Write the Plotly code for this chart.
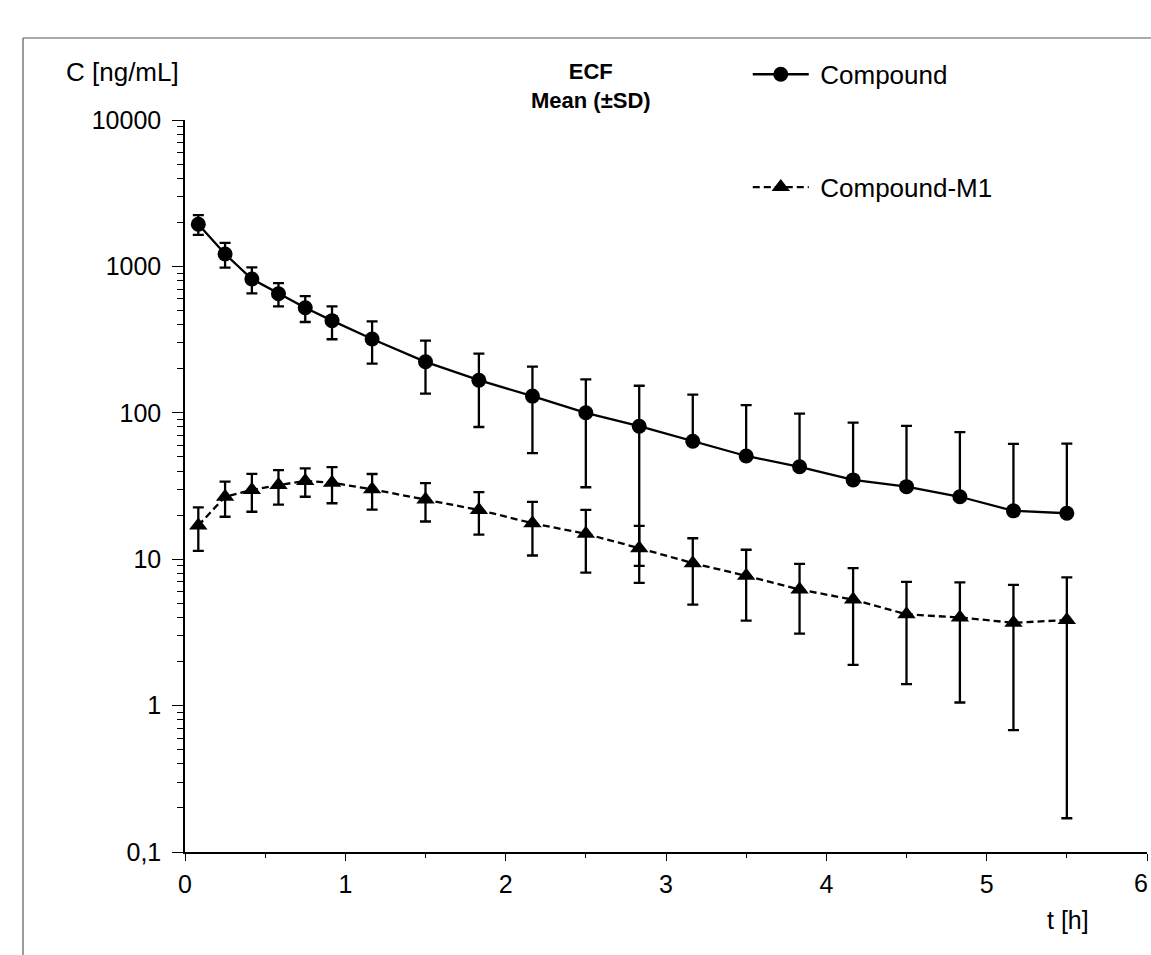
import plotly.graph_objects as go

# ---- data ----
t_h = [0.083, 0.25, 0.417, 0.583, 0.75, 0.917, 1.167, 1.5, 1.833, 2.167,
       2.5, 2.833, 3.167, 3.5, 3.833, 4.167, 4.5, 4.833, 5.167, 5.5]
compound_mean = [1940, 1215, 820, 651, 522, 426, 319, 223, 167, 130,
                 100, 81, 64, 50.7, 42.8, 34.8, 31.3, 26.7, 21.4, 20.6]
compound_sd = [300, 235, 165, 118, 105, 108, 102, 88, 87, 77,
               69, 72, 69, 62, 56, 51, 50, 47, 40, 41]
m1_mean = [17.0, 26.7, 29.7, 32.1, 34.2, 33.3, 30.0, 25.6, 21.7, 17.6,
           14.9, 11.9, 9.4, 7.7, 6.2, 5.3, 4.2, 4.0, 3.68, 3.84]
m1_sd = [5.6, 7.2, 8.6, 8.5, 7.5, 9.2, 8.2, 7.5, 7.0, 7.0,
         6.8, 5.0, 4.5, 3.9, 3.1, 3.4, 2.8, 2.95, 3.0, 3.67]

series_names = ["Compound", "Compound-M1"]
y_tickvals = [0.1, 1, 10, 100, 1000, 10000]
y_ticktext = ["0,1", "1", "10", "100", "1000", "10000"]
x_tickvals = [0, 1, 2, 3, 4, 5, 6]
x_edge_label = 6  # last tick label, sits against the page edge in the reference

FONT = "Liberation Sans, Arial, sans-serif"


def lower_err(means, sds):
    # on a log axis the lower bar is dropped when mean - SD <= 0
    return [s if s < m else 0 for m, s in zip(means, sds)]


fig = go.Figure()

fig.add_trace(go.Scatter(
    x=t_h, y=compound_mean, name="\u2005" + series_names[0], legendgroup="a",
    mode="lines+markers",
    line=dict(color="black", width=2.3),
    marker=dict(symbol="circle", size=15, color="black"),
    error_y=dict(type="data", symmetric=False, array=compound_sd,
                 arrayminus=lower_err(compound_mean, compound_sd),
                 color="black", thickness=2.3, width=5.5),
))

fig.add_trace(go.Scatter(
    x=t_h, y=m1_mean, name="\u2005" + series_names[1], legendgroup="b",
    mode="lines+markers",
    line=dict(color="black", width=2.3, dash="7px,4px"),
    marker=dict(symbol="triangle-up", size=16, color="black"),
    error_y=dict(type="data", symmetric=False, array=m1_sd,
                 arrayminus=lower_err(m1_mean, m1_sd),
                 color="black", thickness=2.3, width=5.5),
))

minor_y = [k * 10 ** e for e in range(-1, 4) for k in range(2, 10)]

fig.update_xaxes(
    range=[0, 6], tickvals=x_tickvals, ticks="outside", ticklen=7, tickwidth=1.3,
    tickcolor="black", showline=True, linecolor="black", linewidth=1.5,
    showgrid=False, zeroline=False, ticklabelstandoff=2,
    tickfont=dict(size=25, color="black", family=FONT),
    minor=dict(dtick=0.5, ticks="outside", ticklen=4, tickwidth=1.3, tickcolor="black",
               showgrid=False),
)
fig.update_yaxes(
    type="log", range=[-1, 4], tickvals=y_tickvals, ticktext=y_ticktext,
    ticks="outside", ticklen=11, tickwidth=1.3, tickcolor="black",
    showline=True, linecolor="black", linewidth=1.5,
    showgrid=False, zeroline=False, ticklabelstandoff=6,
    tickfont=dict(size=25, color="black", family=FONT),
    minor=dict(tickvals=minor_y, ticks="outside", ticklen=6, tickwidth=1.3,
               tickcolor="black", showgrid=False),
)

fig.update_layout(
    width=1151, height=955,
    margin=dict(l=185, r=4, t=120, b=103),
    paper_bgcolor="white", plot_bgcolor="white",
    font=dict(family=FONT, color="black"),
    showlegend=True,
    legend=dict(
        x=0.585, y=1.0945, xanchor="left", yanchor="top",
        font=dict(size=26, family=FONT, color="black"),
        itemwidth=56, tracegroupgap=76, traceorder="grouped",
        bgcolor="rgba(0,0,0,0)",
    ),
    annotations=[
        dict(text="C [ng/mL]", xref="paper", yref="paper", x=-0.1258, y=1.0656,
             xanchor="left", yanchor="middle", showarrow=False,
             font=dict(size=26, family=FONT, color="black")),
        dict(text="<b>ECF</b><br><b>Mean (±SD)</b>", xref="paper", yref="paper",
             x=0.422, y=1.0458, xanchor="center", yanchor="middle", showarrow=False,
             font=dict(size=22, family=FONT, color="black")),
        dict(text="t [h]", xref="paper", yref="paper", x=0.918, y=-0.0929,
             xanchor="center", yanchor="middle", showarrow=False,
             font=dict(size=25, family=FONT, color="black")),
        dict(text=str(x_edge_label), xref="x", yref="paper", x=x_edge_label, y=-0.0423,
             xanchor="right", yanchor="middle", xshift=3, showarrow=False,
             font=dict(size=25, family=FONT, color="black")),
    ],
    shapes=[
        dict(type="line", xref="paper", yref="paper", x0=-0.1684, x1=1.02,
             y0=1.112, y1=1.112, line=dict(color="#595959", width=1.2)),
        dict(type="line", xref="paper", yref="paper", x0=-0.1684, x1=-0.1684,
             y0=1.112, y1=-0.2, line=dict(color="#595959", width=1.2)),
    ],
)

fig.write_html("out.html", config={"displayModeBar": False},
               post_script="document.body.style.margin='0';")
